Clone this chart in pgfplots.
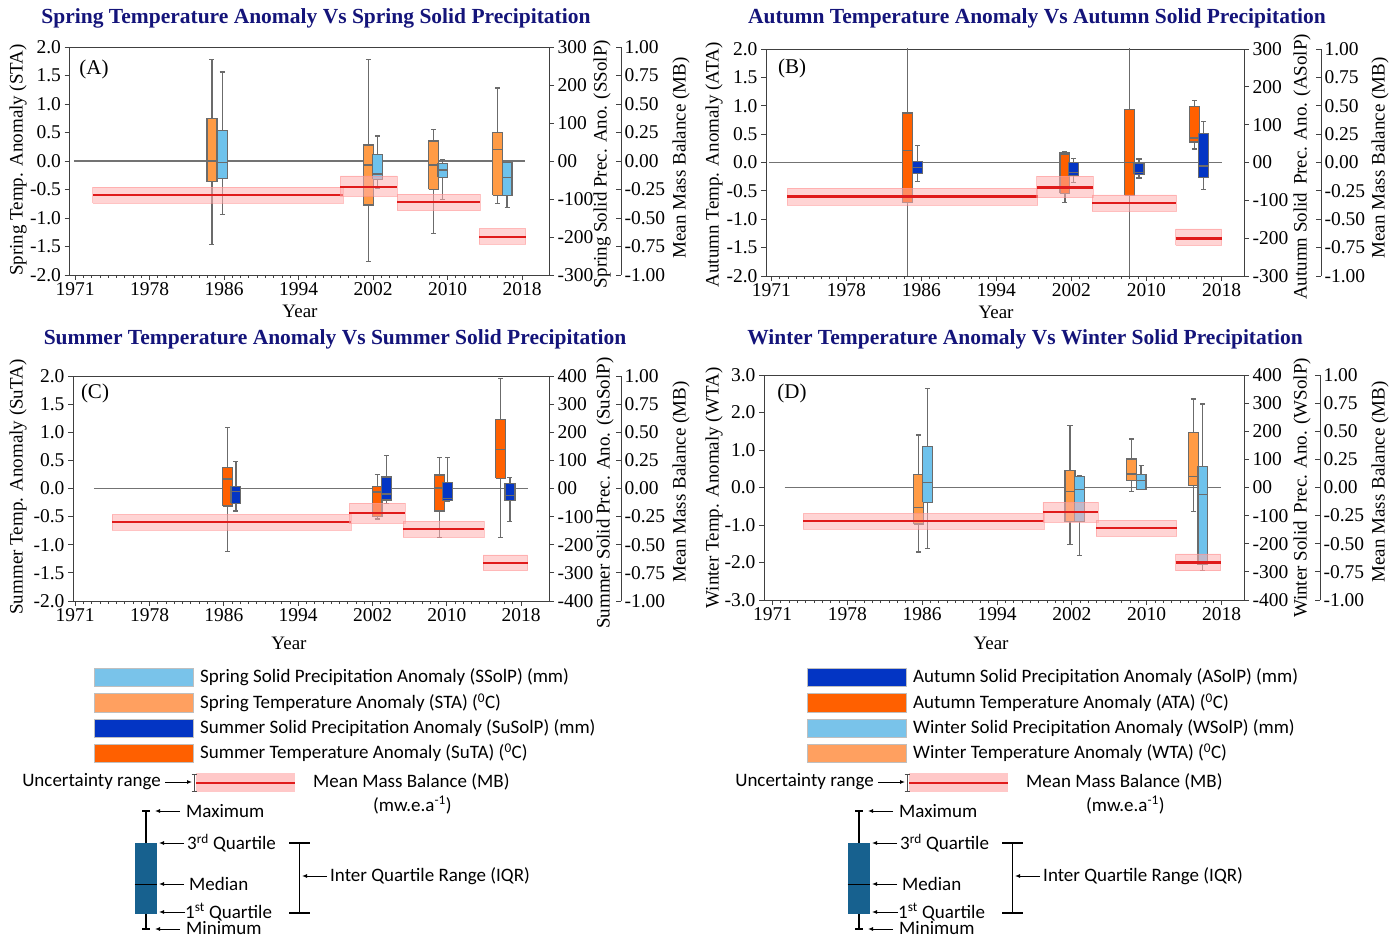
\documentclass[border=0pt]{standalone}
\usepackage{pgfplots}
\pgfplotsset{compat=1.18}
\usetikzlibrary{arrows.meta}
\usepackage{fontspec}
\setmainfont{Liberation Serif}
\newfontfamily\legfont{Carlito}
\definecolor{lorange}{HTML}{FF9B45}
\definecolor{lblue}{HTML}{6EC2EC}
\definecolor{dorange}{HTML}{FF6000}
\definecolor{dblue}{HTML}{0335C4}
\definecolor{ttl}{HTML}{14147A}
\definecolor{mbred}{HTML}{E01B1B}
\definecolor{mbband}{HTML}{FFB0B0}
\definecolor{dgbox}{HTML}{17618F}
\definecolor{leglorange}{HTML}{FFA060}
\definecolor{leglblue}{HTML}{79C3EA}

\pgfplotsset{
  base/.style={scale only axis, anchor=south west,
    axis line style={draw=black!75, line width=0.9pt},
    tick style={draw=black!75, line width=0.8pt},
    tick align=outside, major tick length=5pt, minor tick length=3pt,
    tick label style={font=\fontsize{19.5}{21}\selectfont}},
  tempax/.style={base, xtick={0,8,16,24,32,40,48},
    xticklabels={1971,1978,1986,1994,2002,2010,2018},
    minor x tick num=8, xtick pos=bottom, ytick pos=left,
    xticklabel style={yshift=1pt}},
  precax/.style={base, hide x axis, axis y line*=right},
  mbax/.style={base, hide x axis, axis y line*=right, ymin=-1, ymax=1,
    ytick={-1,-0.75,-0.5,-0.25,0,0.25,0.5,0.75,1},
    yticklabels={-1.00,-0.75,-0.50,-0.25,0.00,0.25,0.50,0.75,1.00},
    tick align=inside},
  zl/.style={draw=black!55, line width=1.2pt},
  bxs/.style={draw=black!58, line width=1.25pt},
  mbline/.style={draw=mbred, line width=2.2pt},
  mbbandst/.style={fill=mbband, fill opacity=0.55, draw=mbband!80!red, draw opacity=0.5, line width=0.6pt},
}
% box: colour, position, lower whisker, lower quartile, median, upper quartile, upper whisker
\newcommand{\bx}[7]{%
  \pgfmathsetmacro{\xl}{#2-0.53}\pgfmathsetmacro{\xr}{#2+0.53}%
  \pgfmathsetmacro{\cl}{#2-0.27}\pgfmathsetmacro{\cr}{#2+0.27}%
  \edef\bxcmd{%
    \noexpand\addplot[bxs] coordinates {(#2,#3) (#2,#4)};
    \noexpand\addplot[bxs] coordinates {(#2,#6) (#2,#7)};
    \noexpand\addplot[bxs] coordinates {(\cl,#3) (\cr,#3)};
    \noexpand\addplot[bxs] coordinates {(\cl,#7) (\cr,#7)};
    \noexpand\addplot[bxs, fill=#1] coordinates {(\xl,#4) (\xr,#4) (\xr,#6) (\xl,#6) (\xl,#4)};
    \noexpand\addplot[bxs] coordinates {(\xl,#5) (\xr,#5)};
  }\bxcmd}
% mass balance: x1, x2, value, low, high
\newcommand{\mb}[5]{\addplot[mbbandst] coordinates {(#1,#4) (#2,#4) (#2,#5) (#1,#5) (#1,#4)};
  \addplot[mbline] coordinates {(#1,#3) (#2,#3)};}

\newcommand{\lab}{\fontsize{19}{21}\selectfont}
\newcommand{\ttlf}{\fontsize{21.5}{23}\bfseries\selectfont\color{ttl}}
\newcommand{\legf}{\legfont\fontsize{19}{21}\selectfont}

\newcommand{\legendblock}[9]{%
\begin{scope}[xshift=#1pt]
  \draw[draw=black!25] (94,252) rectangle (193,270); \fill[#2] (94.5,252.5) rectangle (192.5,269.5);
  \draw[draw=black!25] (94,226) rectangle (193,245); \fill[#3] (94.5,226.5) rectangle (192.5,244.5);
  \draw[draw=black!25] (94,201) rectangle (193,219); \fill[#4] (94.5,201.5) rectangle (192.5,218.5);
  \draw[draw=black!25] (94,176) rectangle (193,194); \fill[#5] (94.5,176.5) rectangle (192.5,193.5);
  \node[anchor=west, font=\legf, inner sep=0pt] at (200,261) {#6};
  \node[anchor=west, font=\legf, inner sep=0pt] at (200,235.5) {#7};
  \node[anchor=west, font=\legf, inner sep=0pt] at (200,210) {#8};
  \node[anchor=west, font=\legf, inner sep=0pt] at (200,185) {#9};
  % uncertainty
  \node[anchor=east, font=\legf, inner sep=0pt] at (161,156) {Uncertainty range};
  \draw[-{Latex[length=5pt,width=4pt]}, line width=1pt] (165,156) -- (192,156);
  \fill[mbband!70] (196,146) rectangle (295,165);
  \draw[mbred, line width=2pt] (196,155.5) -- (295,155.5);
  \draw[black!70, line width=0.8pt] (194,164) -- (194,147) (191.5,164) -- (196.5,164) (191.5,147) -- (196.5,147);
  \node[anchor=west, font=\legf, inner sep=0pt] at (313,156) {Mean Mass Balance (MB)};
  \node[anchor=west, font=\legf, inner sep=0pt] at (373,133) {(mw.e.a\textsuperscript{-1})};
  % box diagram
  \draw[line width=1.4pt] (146,127) -- (146,95) (142,127) -- (150,127);
  \fill[dgbox] (134.5,24) rectangle (157,95);
  \draw[line width=1.6pt] (134.5,53.5) -- (157,53.5);
  \draw[line width=1.4pt] (146,24) -- (146,9) (142,9) -- (150,9);
  \draw[-{Latex[length=5pt,width=4pt]}, line width=1pt] (180,127) -- (155,127);
  \node[anchor=west, font=\legf, inner sep=0pt] at (186,127) {Maximum};
  \draw[-{Latex[length=5pt,width=4pt]}, line width=1pt] (184,95) -- (159,95);
  \node[anchor=west, font=\legf, inner sep=0pt] at (187,95) {3\textsuperscript{rd} Quartile};
  \draw[-{Latex[length=5pt,width=4pt]}, line width=1pt] (184,54) -- (159,54);
  \node[anchor=west, font=\legf, inner sep=0pt] at (189,54) {Median};
  \draw[-{Latex[length=5pt,width=4pt]}, line width=1pt] (185,26) -- (159,26);
  \node[anchor=west, font=\legf, inner sep=0pt] at (185,26) {1\textsuperscript{st} Quartile};
  \draw[-{Latex[length=5pt,width=4pt]}, line width=1pt] (180,9) -- (155,9);
  \node[anchor=west, font=\legf, inner sep=0pt] at (186,10) {Minimum};
  \draw[line width=1.6pt] (289,95) -- (310,95) (289,25) -- (310,25) (299.5,95) -- (299.5,25);
  \draw[-{Latex[length=5pt,width=4pt]}, line width=1pt] (327,62) -- (302,62);
  \node[anchor=west, font=\legf, inner sep=0pt] at (330,62) {Inter Quartile Range (IQR)};
\end{scope}}

\begin{document}
\begin{tikzpicture}
\begin{scope}[x=1pt,y=1pt]
\path[use as bounding box] (0,0) rectangle (1396,938);
\end{scope}

%%%%%%%%%%%%%%%% Panel A
\begin{axis}[tempax, at={(69.5pt,663pt)}, width=479.5pt, height=228pt, xmin=-0.6, xmax=50.9,
  ymin=-2, ymax=2, ytick={-2,-1.5,-1,-0.5,0,0.5,1,1.5,2},
  yticklabels={-2.0,-1.5,-1.0,-0.5,0.0,0.5,1.0,1.5,2.0}]
\addplot[zl] coordinates {(-0.1,0) (48.3,0)};
\bx{lorange}{14.7}{-1.46}{-0.36}{0.0}{0.75}{1.78}
\bx{lorange}{31.5}{-1.76}{-0.77}{-0.07}{0.28}{1.78}
\bx{lorange}{38.5}{-1.27}{-0.50}{-0.07}{0.35}{0.55}
\bx{lorange}{45.4}{-0.74}{-0.60}{0.20}{0.50}{1.28}
\end{axis}
\begin{axis}[precax, at={(69.5pt,663pt)}, width=479.5pt, height=228pt, xmin=-0.6, xmax=50.9,
  ymin=-300, ymax=300, ytick={-300,-200,-100,0,100,200,300},
  yticklabels={-300,-200,-100,00,100,200,300}]
\bx{lblue}{15.8}{-140}{-46}{-4}{81}{234}
\bx{lblue}{32.5}{-72}{-48}{-34}{18}{66}
\bx{lblue}{39.5}{-101}{-43}{-24}{-6}{4}
\bx{lblue}{46.4}{-122}{-91}{-44}{-3}{-3}
\end{axis}
\begin{axis}[mbax, at={(69.5pt,663pt)}, width=479.5pt, height=228pt, xmin=-0.6, xmax=50.9,
  axis y line shift=72pt]
\mb{1.9}{28.8}{-0.30}{-0.37}{-0.23}
\mb{28.5}{34.6}{-0.225}{-0.31}{-0.13}
\mb{34.6}{43.5}{-0.36}{-0.435}{-0.29}
\mb{43.4}{48.4}{-0.67}{-0.73}{-0.59}
\end{axis}

%%%%%%%%%%%%%%%% Panel B
\begin{axis}[tempax, at={(766pt,662pt)}, width=478pt, height=227pt, xmin=-0.57, xmax=50.4,
  ymin=-2, ymax=2, ytick={-2,-1.5,-1,-0.5,0,0.5,1,1.5,2},
  yticklabels={-2.0,-1.5,-1.0,-0.5,0.0,0.5,1.0,1.5,2.0}]
\addplot[zl] coordinates {(-0.24,0) (48.0,0)};
\bx{dorange}{14.5}{-2.6}{-0.71}{0.21}{0.87}{2.6}
\bx{dorange}{31.3}{-0.70}{-0.54}{0.15}{0.18}{0.19}
\bx{dorange}{38.2}{-2.6}{-0.58}{0.0}{0.94}{2.6}
\bx{dorange}{45.1}{0.24}{0.36}{0.43}{0.99}{1.09}
\end{axis}
\begin{axis}[precax, at={(766pt,662pt)}, width=478pt, height=227pt, xmin=-0.57, xmax=50.4,
  ymin=-300, ymax=300, ytick={-300,-200,-100,0,100,200,300},
  yticklabels={-300,-200,-100,00,100,200,300}]
\bx{dblue}{15.6}{-50}{-30}{-13}{3}{44}
\bx{dblue}{32.2}{-52}{-34}{-26}{0}{11}
\bx{dblue}{39.2}{-41}{-31}{-26}{-2}{9}
\bx{dblue}{46.1}{-71}{-40}{-9}{76}{108}
\end{axis}
\begin{axis}[mbax, at={(766pt,662pt)}, width=478pt, height=227pt, xmin=-0.57, xmax=50.4,
  axis y line shift=77pt]
\mb{1.7}{28.4}{-0.30}{-0.375}{-0.225}
\mb{28.3}{34.3}{-0.22}{-0.31}{-0.12}
\mb{34.2}{43.2}{-0.36}{-0.43}{-0.285}
\mb{43.1}{48.0}{-0.67}{-0.73}{-0.585}
\end{axis}

%%%%%%%%%%%%%%%% Panel C
\begin{axis}[tempax, at={(73pt,337pt)}, width=476pt, height=225pt, xmin=-0.24, xmax=51.0,
  ymin=-2, ymax=2, ytick={-2,-1.5,-1,-0.5,0,0.5,1,1.5,2},
  yticklabels={-2.0,-1.5,-1.0,-0.5,0.0,0.5,1.0,1.5,2.0}]
\addplot[zl] coordinates {(2.0,0) (48.7,0)};
\bx{dorange}{16.4}{-1.12}{-0.31}{0.17}{0.37}{1.08}
\bx{dorange}{32.5}{-0.54}{-0.50}{-0.06}{0.03}{0.25}
\bx{dorange}{39.2}{-0.87}{-0.40}{0.01}{0.24}{0.55}
\bx{dorange}{45.8}{-0.87}{0.18}{0.69}{1.23}{1.95}
\end{axis}
\begin{axis}[precax, at={(73pt,337pt)}, width=476pt, height=225pt, xmin=-0.24, xmax=51.0,
  ymin=-400, ymax=400, ytick={-400,-300,-200,-100,0,100,200,300,400},
  yticklabels={-400,-300,-200,-100,00,100,200,300,400}]
\bx{dblue}{17.3}{-80}{-53}{-12}{6}{95}
\bx{dblue}{33.5}{-53}{-41}{-20}{41}{118}
\bx{dblue}{40.1}{-46}{-44}{-36}{20}{110}
\bx{dblue}{46.8}{-118}{-44}{-26}{18}{38}
\end{axis}
\begin{axis}[mbax, at={(73pt,337pt)}, width=476pt, height=225pt, xmin=-0.24, xmax=51.0,
  axis y line shift=72pt]
\mb{3.96}{29.7}{-0.30}{-0.37}{-0.23}
\mb{29.5}{35.5}{-0.215}{-0.31}{-0.13}
\mb{35.3}{44.0}{-0.36}{-0.435}{-0.29}
\mb{43.9}{48.7}{-0.665}{-0.73}{-0.59}
\end{axis}

%%%%%%%%%%%%%%%% Panel D
\begin{axis}[tempax, at={(764pt,338pt)}, width=480pt, height=225pt, xmin=-0.91, xmax=50.4,
  ymin=-3, ymax=3, ytick={-3,-2,-1,0,1,2,3},
  yticklabels={-3.0,-2.0,-1.0,0.0,1.0,2.0,3.0}]
\addplot[zl] coordinates {(1.3,0) (47.9,0)};
\bx{lorange}{15.6}{-1.72}{-0.97}{-0.53}{0.34}{1.40}
\bx{lorange}{31.8}{-1.51}{-0.91}{-0.11}{0.45}{1.65}
\bx{lorange}{38.4}{-0.11}{0.18}{0.36}{0.76}{1.29}
\bx{lorange}{45.0}{-0.64}{0.05}{0.29}{1.47}{2.36}
\end{axis}
\begin{axis}[precax, at={(764pt,338pt)}, width=480pt, height=225pt, xmin=-0.91, xmax=50.4,
  ymin=-400, ymax=400, ytick={-400,-300,-200,-100,0,100,200,300,400},
  yticklabels={-400,-300,-200,-100,00,100,200,300,400}]
\bx{lblue}{16.6}{-218}{-53}{19}{146}{353}
\bx{lblue}{32.8}{-242}{-121}{-8}{38}{41}
\bx{lblue}{39.4}{-8}{-8}{24}{47}{77}
\bx{lblue}{46.0}{-295}{-275}{-24}{75}{297}
\end{axis}
\begin{axis}[mbax, at={(764pt,338pt)}, width=480pt, height=225pt, xmin=-0.91, xmax=50.4,
  axis y line shift=76pt]
\mb{3.3}{29.0}{-0.30}{-0.37}{-0.23}
\mb{28.9}{34.8}{-0.22}{-0.31}{-0.13}
\mb{34.6}{43.2}{-0.36}{-0.435}{-0.29}
\mb{43.1}{47.9}{-0.667}{-0.74}{-0.59}
\end{axis}

\begin{scope}[x=1pt,y=1pt]
%%%%%%%%%%%%%%%% Titles and labels
\node[font=\ttlf] at (316,920) {Spring Temperature Anomaly Vs Spring Solid Precipitation};
\node[font=\ttlf] at (1037,920) {Autumn Temperature Anomaly Vs Autumn Solid Precipitation};
\node[font=\ttlf] at (335,599) {Summer Temperature Anomaly Vs Summer Solid Precipitation};
\node[font=\ttlf] at (1025,599) {Winter Temperature Anomaly Vs Winter Solid Precipitation};

\node[font=\fontsize{21}{23}\selectfont] at (94,869) {(A)};
\node[font=\fontsize{21}{23}\selectfont] at (792,870) {(B)};
\node[font=\fontsize{21}{23}\selectfont] at (95,545) {(C)};
\node[font=\fontsize{21}{23}\selectfont] at (792,545) {(D)};

\node[font=\lab] at (300,627) {Year};
\node[font=\lab] at (996,626) {Year};
\node[font=\lab] at (289,295) {Year};
\node[font=\lab] at (991,295) {Year};

\node[font=\lab, rotate=90] at (18,778) {Spring Temp. Anomaly (STA)};
\node[font=\lab, rotate=90] at (714,773) {Autumn Temp. Anomaly (ATA)};
\node[font=\lab, rotate=90] at (18,451) {Summer Temp. Anomaly (SuTA)};
\node[font=\lab, rotate=90] at (714,450) {Winter Temp. Anomaly (WTA)};

\node[font=\lab, rotate=90] at (602,774) {Spring Solid Prec. Ano. (SSolP)};
\node[font=\lab, rotate=90] at (1302,771) {Autumn Solid\, Prec. Ano. (ASolP)};
\node[font=\lab, rotate=90] at (605,445) {Summer Solid Prec. Ano. (SuSolP)};
\node[font=\lab, rotate=90] at (1302,450) {Winter Solid\, Prec. Ano. (WSolP)};

\node[font=\lab, rotate=90] at (681,780) {Mean Mass Balance (MB)};
\node[font=\lab, rotate=90] at (1380,780) {Mean Mass Balance (MB)};
\node[font=\lab, rotate=90] at (681,456) {Mean Mass Balance (MB)};
\node[font=\lab, rotate=90] at (1380,456) {Mean Mass Balance (MB)};

%%%%%%%%%%%%%%%% Legends
\legendblock{0}{leglblue}{leglorange}{dblue}{dorange}%
  {Spring Solid Precipitation Anomaly (SSolP) (mm)}%
  {Spring Temperature Anomaly (STA) (\textsuperscript{0}C)}%
  {Summer Solid Precipitation Anomaly (SuSolP) (mm)}%
  {Summer Temperature Anomaly (SuTA) (\textsuperscript{0}C)}
\legendblock{713}{dblue}{dorange}{leglblue}{leglorange}%
  {Autumn Solid Precipitation Anomaly (ASolP) (mm)}%
  {Autumn Temperature Anomaly (ATA) (\textsuperscript{0}C)}%
  {Winter Solid Precipitation Anomaly (WSolP) (mm)}%
  {Winter Temperature Anomaly (WTA) (\textsuperscript{0}C)}
\end{scope}
\end{tikzpicture}
\end{document}
